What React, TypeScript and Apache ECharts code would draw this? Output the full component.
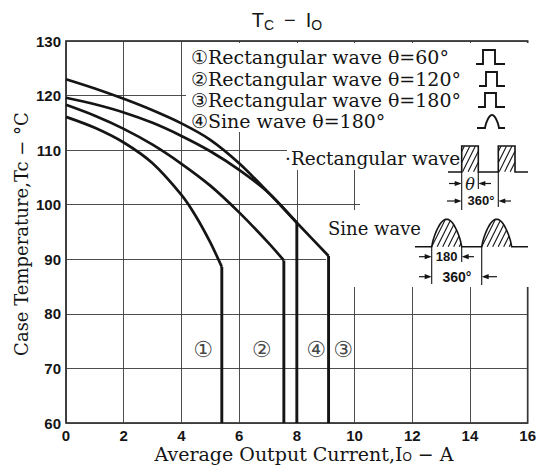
import React, { useEffect, useRef } from 'react';
import * as echarts from 'echarts';

// ---- data ----
const xMin = 0;
const xMax = 16;
const xStep = 2;
const yMin = 60;
const yMax = 130;
const yStep = 10;

// ① Rectangular wave θ=60°
const curve1X = [0, 1, 2, 3, 4, 4.5, 5, 5.4];
const curve1Y = [116.1, 114.1, 111.4, 107.6, 101.8, 97.9, 93.1, 88.6];
// ② Rectangular wave θ=120°
const curve2X = [0, 1, 2, 3, 4, 5, 6, 7, 7.55];
const curve2Y = [118.3, 116.3, 113.9, 111.0, 107.5, 103.5, 98.6, 93.1, 89.8];
// ③ Rectangular wave θ=180°
const curve3X = [0, 1, 2, 3, 4, 5, 6, 7, 8, 9.1];
const curve3Y = [123.0, 121.3, 119.4, 117.3, 114.9, 111.9, 107.6, 102.3, 96.7, 90.6];
// ④ Sine wave θ=180°
const curve4X = [0, 1, 2, 3, 4, 5, 6, 7, 8.0];
const curve4Y = [119.6, 118.4, 116.9, 115.0, 112.6, 109.8, 106.4, 102.3, 96.7];

const markNames = ['①', '②', '④', '③'];
const markX = [4.75, 6.78, 8.67, 9.6];
const markY = [73.4, 73.4, 73.4, 73.4];

const legendRows = [
  '①Rectangular wave θ=60°',
  '②Rectangular wave θ=120°',
  '③Rectangular wave θ=180°',
  '④Sine wave θ=180°',
];

const SERIF = '"DejaVu Serif", "Liberation Serif", serif';
const SANS = '"Liberation Sans", "DejaVu Sans", sans-serif';
const INK = '#151515';

function hatch(inside: (x: number, y: number) => boolean, x0: number, x1: number, y0: number, y1: number, step: number) {
  const segs: any[] = [];
  const cStart = x0 + y0 / 2;
  const cEnd = x1 + y1 / 2;
  for (let c = cStart + step / 2; c < cEnd; c += step) {
    let first: number[] | null = null;
    let last: number[] | null = null;
    for (let y = y0; y <= y1; y += 0.25) {
      const x = c - y / 2;
      if (inside(x, y)) {
        if (!first) first = [x, y];
        last = [x, y];
      }
    }
    if (first && last && Math.hypot(first[0] - last[0], first[1] - last[1]) > 1.5) {
      segs.push({
        type: 'line',
        z: 10,
        silent: true,
        shape: { x1: first[0], y1: first[1], x2: last[0], y2: last[1] },
        style: { stroke: INK, lineWidth: 1.1 },
      });
    }
  }
  return segs;
}

function arrow(xFrom: number, xTo: number, y: number) {
  const dir = xTo > xFrom ? 1 : -1;
  return [
    { type: 'line', z: 10, silent: true, shape: { x1: xFrom, y1: y, x2: xTo - dir * 3, y2: y }, style: { stroke: INK, lineWidth: 1.2 } },
    {
      type: 'polygon', z: 10, silent: true,
      shape: { points: [[xTo, y], [xTo - dir * 7, y - 2.6], [xTo - dir * 7, y + 2.6]] },
      style: { fill: INK },
    },
  ];
}

function vline(x: number, y1: number, y2: number, w = 1.1) {
  return { type: 'line', z: 10, silent: true, shape: { x1: x, y1, x2: x, y2 }, style: { stroke: INK, lineWidth: w } };
}

function humpPoints(xa: number, w: number, base: number, h: number) {
  const pts: number[][] = [];
  for (let i = 0; i <= 24; i++) {
    const t = i / 24;
    pts.push([xa + t * w, base - h * Math.pow(Math.sin(Math.PI * t), 0.75)]);
  }
  return pts;
}

function humpInside(xa: number, w: number, base: number, h: number) {
  return (x: number, y: number) => {
    if (x < xa || x > xa + w || y > base) return false;
    const t = (x - xa) / w;
    return y >= base - h * Math.pow(Math.sin(Math.PI * t), 0.75);
  };
}

function text(t: string, x: number, y: number, opts: any = {}) {
  return {
    type: 'text', z: 10, silent: true, x, y,
    style: {
      text: t,
      fill: INK,
      font: opts.font || `17px ${SERIF}`,
      align: opts.align || 'left',
      verticalAlign: opts.verticalAlign || 'middle',
    },
    rotation: opts.rotation || 0,
  };
}

export default function App() {
  const ref = useRef<HTMLDivElement>(null);

  useEffect(() => {
    const chart = echarts.init(ref.current!, null, { renderer: 'svg' });

    const curves = [
      { xs: curve1X, ys: curve1Y },
      { xs: curve2X, ys: curve2Y },
      { xs: curve3X, ys: curve3Y },
      { xs: curve4X, ys: curve4Y },
    ];
    const series: any[] = [];
    curves.forEach((c, k) => {
      const data = c.xs.map((x, i) => [x, c.ys[i]]);
      const lx = c.xs[c.xs.length - 1];
      const ly = c.ys[c.ys.length - 1];
      series.push({
        type: 'line', name: 'c' + k, data, smooth: 0.3, showSymbol: false, z: 5,
        lineStyle: { color: INK, width: 2.7 }, silent: true,
      });
      series.push({
        type: 'line', name: 'd' + k, data: [[lx, ly], [lx, yMin]], showSymbol: false, z: 5,
        lineStyle: { color: INK, width: 2.9 }, silent: true,
      });
    });
    series.push({
      type: 'scatter', z: 6, symbolSize: 0, silent: true,
      data: markNames.map((n, i) => ({ name: n, value: [markX[i], markY[i]] })),
      label: {
        show: true, position: 'inside', formatter: (p: any) => p.name,
        color: INK, fontSize: 22, fontFamily: '"DejaVu Sans", "Noto Sans CJK JP", sans-serif',
      },
    });

    // white masks behind the annotations
    const masks = [
      [186, 43, 343, 89],
      [287, 132, 242, 38],
      [360, 170, 169, 40],
      [326, 210, 203, 77],
    ].map(([x, y, w, h]) => ({
      type: 'rect', z: 1, silent: true, shape: { x, y, width: w, height: h }, style: { fill: '#ffffff' },
    }));

    const rowY = [57, 79, 100, 121];
    const legendTexts = legendRows.map((r, i) => text(r, 191, rowY[i], { font: `19px ${SERIF}` }));

    const icons: any[] = [];
    const pulse = (x0: number, xu: number, xd: number, x1: number, yc: number) => ({
      type: 'polyline', z: 10, silent: true,
      shape: { points: [[x0, yc + 7], [xu, yc + 7], [xu, yc - 7], [xd, yc - 7], [xd, yc + 7], [x1, yc + 7]] },
      style: { stroke: INK, lineWidth: 1.9, fill: 'none' },
    });
    icons.push(pulse(476, 483, 495, 505, rowY[0]));
    icons.push(pulse(479, 486, 497, 505, rowY[1]));
    icons.push(pulse(478, 485, 496, 505, rowY[2]));
    {
      const yc = rowY[3];
      const pts = [[477, yc + 7], ...humpPoints(485, 14, yc + 7, 13), [505, yc + 7]];
      icons.push({ type: 'polyline', z: 10, silent: true, shape: { points: pts }, style: { stroke: INK, lineWidth: 1.9, fill: 'none' } });
    }

    // rectangular wave diagram
    const rb = 172, rt = 146;
    const rectWave: any[] = [];
    rectWave.push({
      type: 'polyline', z: 10, silent: true,
      shape: { points: [[448, rb], [461.7, rb], [461.7, rt], [478.3, rt], [478.3, rb], [498.3, rb], [498.3, rt], [515, rt], [515, rb], [528, rb]] },
      style: { stroke: INK, lineWidth: 1.6, fill: 'none' },
    });
    rectWave.push(...hatch((x, y) => x > 461.7 && x < 478.3 && y > rt && y < rb, 461.7, 478.3, rt, rb, 5.5));
    rectWave.push(...hatch((x, y) => x > 498.3 && x < 515 && y > rt && y < rb, 498.3, 515, rt, rb, 5.5));
    rectWave.push(vline(461.7, rb, 210), vline(478.3, rb, 189), vline(498.3, rb, 207));
    rectWave.push(...arrow(449, 461.7, 183.5), ...arrow(491, 478.3, 183.5));
    rectWave.push(text('θ', 470, 184, { font: `italic 16px ${SERIF}`, align: 'center' }));
    rectWave.push(...arrow(447, 461.7, 201), ...arrow(511, 498.3, 201));
    rectWave.push(text('360°', 481, 200, { font: `bold 13px ${SANS}`, align: 'center' }));

    // sine wave diagram
    const sb = 246.7, sh = 27.5;
    const sineWave: any[] = [];
    sineWave.push({
      type: 'polyline', z: 10, silent: true,
      shape: { points: [[415, sb], ...humpPoints(431.7, 30, sb, sh), [481.7, sb], ...humpPoints(481.7, 30, sb, sh), [528, sb]] },
      style: { stroke: INK, lineWidth: 1.6, fill: 'none' },
    });
    sineWave.push(...hatch(humpInside(431.7, 30, sb, sh), 431.7, 461.7, sb - sh, sb, 5.5));
    sineWave.push(...hatch(humpInside(481.7, 30, sb, sh), 481.7, 511.7, sb - sh, sb, 5.5));
    sineWave.push(vline(431.7, sb, 284), vline(461.7, sb, 262), vline(481.7, sb, 285));
    sineWave.push(...arrow(419, 431.7, 256.7), ...arrow(474, 461.7, 256.7));
    sineWave.push(text('180', 446.7, 256.5, { font: `bold 13px ${SANS}`, align: 'center' }));
    sineWave.push(...arrow(419, 431.7, 276.7), ...arrow(497, 481.7, 276.7));
    sineWave.push(text('360°', 457, 276.5, { font: `bold 14px ${SANS}`, align: 'center' }));

    const titles = [
      {
        type: 'text', z: 10, silent: true, x: 287, y: 20,
        style: {
          text: '{n|T}{s|C}   {n|−}   {n|I}{s|O}',
          align: 'center', verticalAlign: 'middle', fill: INK,
          rich: {
            n: { fontSize: 20, fontFamily: SANS, lineHeight: 24, verticalAlign: 'middle', fill: INK },
            s: { fontSize: 14, fontFamily: SANS, lineHeight: 24, verticalAlign: 'bottom', fill: INK },
          },
        },
      },
      {
        type: 'text', z: 10, silent: true, x: 304, y: 454,
        style: {
          text: '{n|Average Output Current,I}{s|O}{n| − A}',
          align: 'center', verticalAlign: 'middle', fill: INK,
          rich: {
            n: { fontSize: 19, fontFamily: SERIF, lineHeight: 18, verticalAlign: 'middle', fill: INK },
            s: { fontSize: 12, fontFamily: SANS, lineHeight: 18, verticalAlign: 'bottom', fill: INK },
          },
        },
      },
      text('Case Temperature,Tc − °C', 21, 234, { font: `18px ${SERIF}`, align: 'center', rotation: Math.PI / 2 }),
      text('·Rectangular wave', 285, 158, { font: `18.5px ${SERIF}` }),
      text('Sine wave', 328, 228, { font: `18px ${SERIF}` }),
    ];

    const option: any = {
      animation: false,
      backgroundColor: '#ffffff',
      grid: {
        left: 66, right: 8, top: 41, bottom: 42,
        show: true, borderColor: INK, borderWidth: 1.6, backgroundColor: 'transparent',
      },
      xAxis: {
        type: 'value', min: xMin, max: xMax, interval: xStep,
        axisLine: { show: false }, axisTick: { show: false },
        splitLine: { show: true, lineStyle: { color: '#3a3a3a', width: 0.9 } },
        axisLabel: { color: INK, fontFamily: SANS, fontWeight: 'bold', fontSize: 15, margin: 5 },
      },
      yAxis: {
        type: 'value', min: yMin, max: yMax, interval: yStep,
        axisLine: { show: false }, axisTick: { show: false },
        splitLine: { show: true, lineStyle: { color: '#3a3a3a', width: 0.9 } },
        axisLabel: { color: INK, fontFamily: SANS, fontWeight: 'bold', fontSize: 15, margin: 5 },
      },
      series,
      graphic: [...masks, ...legendTexts, ...icons, ...rectWave, ...sineWave, ...titles],
    };
    chart.setOption(option);
    return () => chart.dispose();
  }, []);

  return (
    <div
      ref={ref}
      style={{ position: 'fixed', left: 0, top: 0, width: 539, height: 465, background: '#fff' }}
    />
  );
}
